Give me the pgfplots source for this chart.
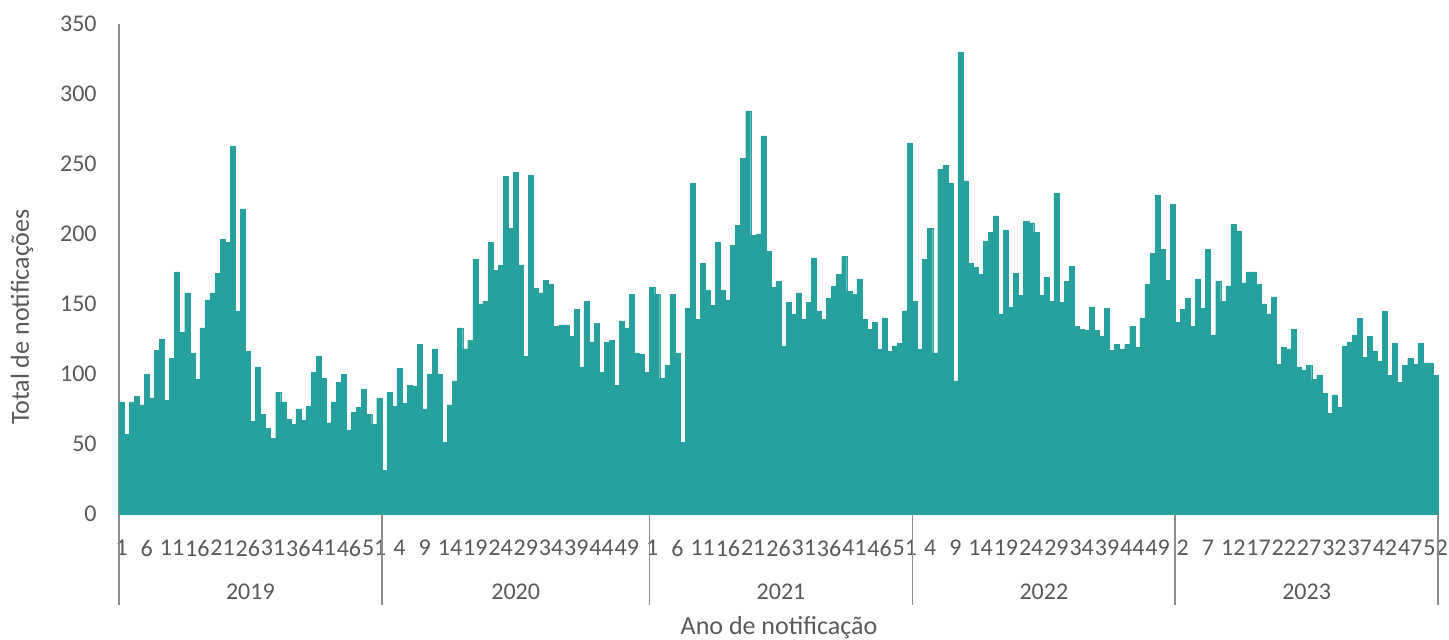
\documentclass[border=0pt]{standalone}
\usepackage{pgfplots}
\pgfplotsset{compat=1.18}
\usepackage{pgfplotstable}
\usepackage{fontspec}
\setmainfont{Carlito}
\definecolor{barc}{RGB}{38,161,157}
\definecolor{txt}{RGB}{89,89,89}
\definecolor{axc}{RGB}{140,140,140}
\pgfplotsset{mybar/.style={ybar, bar width=1, bar shift=0, fill=barc, draw=barc, line width=0.15pt}}

\pgfplotstableread[row sep=\\]{n\\80\\57\\80\\84\\78\\100\\83\\117\\125\\81\\111\\173\\130\\158\\115\\96\\133\\153\\158\\172\\196\\194\\263\\145\\218\\116\\66\\105\\71\\61\\54\\87\\80\\68\\64\\75\\67\\77\\101\\113\\97\\65\\80\\94\\100\\60\\73\\76\\89\\71\\64\\83\\}\yA
\pgfplotstableread[row sep=\\]{n\\31\\87\\77\\104\\79\\92\\91\\121\\75\\100\\118\\100\\51\\78\\95\\133\\118\\124\\182\\150\\152\\194\\174\\178\\241\\204\\244\\178\\113\\242\\161\\158\\167\\164\\134\\135\\135\\127\\146\\105\\152\\123\\136\\101\\123\\124\\92\\138\\133\\157\\115\\114\\101\\}\yB
\pgfplotstableread[row sep=\\]{n\\162\\157\\97\\106\\157\\115\\51\\147\\236\\139\\179\\160\\149\\194\\160\\153\\192\\206\\254\\288\\199\\200\\270\\188\\162\\166\\120\\151\\143\\158\\139\\151\\183\\145\\139\\154\\163\\171\\184\\159\\157\\168\\139\\132\\137\\118\\140\\116\\120\\122\\145\\265\\}\yC
\pgfplotstableread[row sep=\\]{n\\152\\118\\182\\204\\115\\246\\249\\236\\95\\330\\238\\179\\176\\171\\195\\201\\213\\143\\203\\148\\172\\156\\209\\208\\201\\156\\169\\152\\229\\151\\166\\177\\134\\132\\131\\148\\131\\127\\147\\117\\121\\118\\121\\134\\119\\140\\164\\186\\228\\189\\167\\221\\}\yD
\pgfplotstableread[row sep=\\]{n\\137\\146\\154\\134\\168\\147\\189\\128\\166\\152\\163\\207\\202\\165\\173\\173\\164\\150\\143\\155\\107\\119\\118\\132\\105\\103\\106\\96\\99\\86\\72\\85\\76\\120\\123\\128\\140\\112\\127\\116\\109\\145\\99\\122\\94\\106\\111\\107\\122\\108\\108\\99\\}\yE

\begin{document}
\fontsize{12}{14}\selectfont
\begin{tikzpicture}
\path[use as bounding box] (-59.5pt,-63pt) rectangle (665pt,257pt);
\begin{axis}[
  at={(0,0)}, anchor=south west,
  scale only axis, width=659.5pt, height=245pt,
  xmin=0.5, xmax=261.5, ymin=0, ymax=350,
  axis x line*=bottom, axis y line*=left,
  axis line style={axc, line width=0.8pt, -},
  ytick={0,50,...,350},
  major tick length=0pt,
  xtick={1,6,...,261},
  xticklabels={1,6,11,16,21,26,31,36,41,46,51,4,9,14,19,24,29,34,39,44,49,1,6,11,16,21,26,31,36,41,46,51,4,9,14,19,24,29,34,39,44,49,2,7,12,17,22,27,32,37,42,47,52},
  tick label style={font=\fontsize{12}{14}\selectfont, text=txt},
  /pgf/number format/assume math mode=true,
  yticklabel style={xshift=-7pt},
  xticklabel style={anchor=center, yshift=-17pt, inner sep=0pt},
  clip=false,
]
\addplot[mybar] table[x expr=\coordindex+1, y=n] {\yA};
\addplot[mybar] table[x expr=\coordindex+53, y=n] {\yB};
\addplot[mybar] table[x expr=\coordindex+106, y=n] {\yC};
\addplot[mybar] table[x expr=\coordindex+158, y=n] {\yD};
\addplot[mybar] table[x expr=\coordindex+210, y=n] {\yE};
\draw[axc, line width=0.8pt] (axis cs:0.5,0) -- ([yshift=-45.5pt]axis cs:0.5,0);
\draw[axc, line width=0.8pt] (axis cs:52.5,0) -- ([yshift=-45.5pt]axis cs:52.5,0);
\draw[axc, line width=0.8pt] (axis cs:105.5,0) -- ([yshift=-45.5pt]axis cs:105.5,0);
\draw[axc, line width=0.8pt] (axis cs:157.5,0) -- ([yshift=-45.5pt]axis cs:157.5,0);
\draw[axc, line width=0.8pt] (axis cs:209.5,0) -- ([yshift=-45.5pt]axis cs:209.5,0);
\draw[axc, line width=0.8pt] (axis cs:261.5,0) -- ([yshift=-45.5pt]axis cs:261.5,0);
\node[text=txt] at (axis cs:26.5,0) [yshift=-39pt] {2019};
\node[text=txt] at (axis cs:79,0) [yshift=-39pt] {2020};
\node[text=txt] at (axis cs:131.5,0) [yshift=-39pt] {2021};
\node[text=txt] at (axis cs:183.5,0) [yshift=-39pt] {2022};
\node[text=txt] at (axis cs:235.5,0) [yshift=-39pt] {2023};
\end{axis}
\node[rotate=90, text=txt, font=\fontsize{13}{15}\selectfont] at (-48.5pt,98.5pt) {Total de notificações};
\node[text=txt, font=\fontsize{13}{15}\selectfont] at (330pt,-57pt) {Ano de notificação};
\end{tikzpicture}
\end{document}
